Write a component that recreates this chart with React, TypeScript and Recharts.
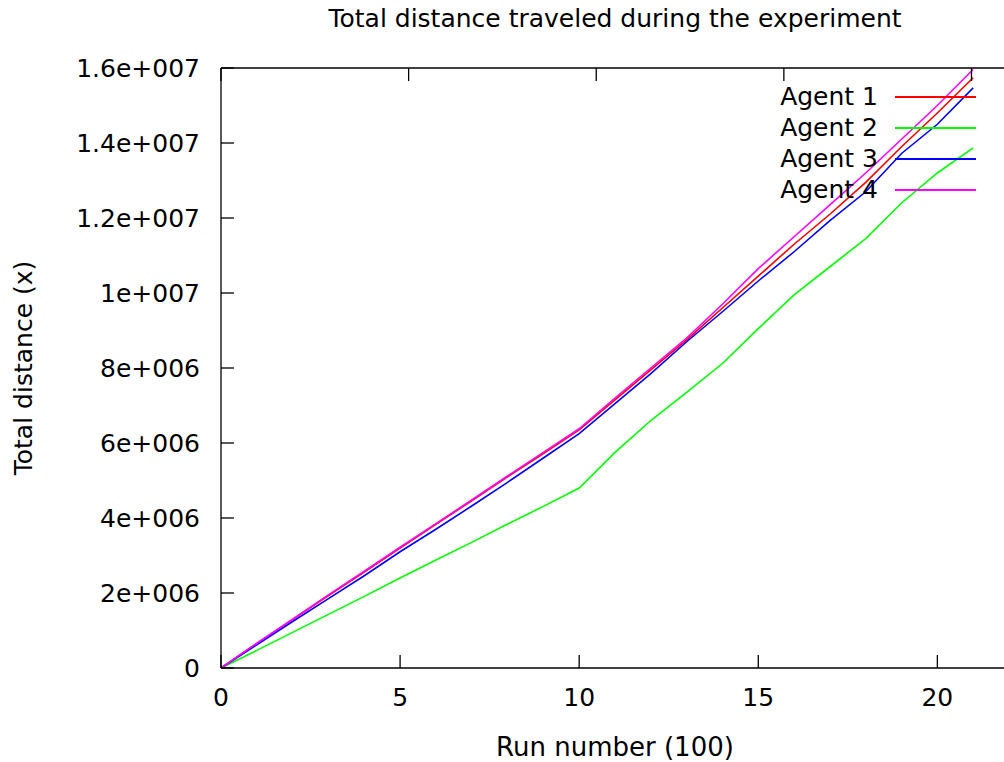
import { LineChart, Line, XAxis, YAxis, Legend, Label } from "recharts";

// run number (x100)
const runs = [0, 1, 2, 3, 4, 5, 6, 7, 8, 9, 10, 11, 12, 13, 14, 15, 16, 17, 18, 19, 20, 21];

// total distance per agent, in millions
const agent1 = [0, 0.65, 1.29, 1.93, 2.56, 3.2, 3.83, 4.46, 5.1, 5.72, 6.35, 7.15, 7.95, 8.75, 9.6, 10.45, 11.3, 12.1, 12.95, 13.9, 14.8, 15.74];
const agent2 = [0, 0.47, 0.95, 1.43, 1.91, 2.4, 2.88, 3.35, 3.84, 4.31, 4.8, 5.75, 6.6, 7.35, 8.12, 9.05, 9.95, 10.7, 11.45, 12.4, 13.2, 13.87];
const agent3 = [0, 0.62, 1.24, 1.85, 2.46, 3.1, 3.7, 4.32, 4.95, 5.6, 6.25, 7.05, 7.85, 8.7, 9.5, 10.32, 11.1, 11.93, 12.7, 13.72, 14.5, 15.47];
const agent4 = [0, 0.66, 1.3, 1.95, 2.58, 3.22, 3.85, 4.48, 5.12, 5.75, 6.38, 7.2, 8.0, 8.8, 9.7, 10.65, 11.5, 12.35, 13.2, 14.1, 15.0, 15.96];

const seriesNames = ["Agent 1", "Agent 2", "Agent 3", "Agent 4"];
const seriesColors = ["#ff0000", "#00ff00", "#0000ff", "#ff00ff"];

const xTicks = [0, 5, 10, 15, 20];
const yTicks = [0, 2e6, 4e6, 6e6, 8e6, 1e7, 1.2e7, 1.4e7, 1.6e7];
const yTickLabels = ["0", "2e+006", "4e+006", "6e+006", "8e+006", "1e+007", "1.2e+007", "1.4e+007", "1.6e+007"];

const data = runs.map((r, i) => ({
  run: r,
  a1: agent1[i] * 1e6,
  a2: agent2[i] * 1e6,
  a3: agent3[i] * 1e6,
  a4: agent4[i] * 1e6,
}));

const FONT = "'DejaVu Sans', sans-serif";
const FS = 25;
const TICK = 13;
// plot box edges
const LEFT = 221;
const RIGHT = 1009;
const TOP = 68;
const BOTTOM = 668;

const BottomTick = (props: any) => {
  const { x, payload } = props;
  return (
    <g>
      <line x1={x} y1={BOTTOM} x2={x} y2={BOTTOM - TICK} stroke="#000" strokeWidth={1.3} />
      <text x={x} y={BOTTOM + 38} textAnchor="middle" fontSize={FS} fontFamily={FONT} fill="#000">
        {payload.value}
      </text>
    </g>
  );
};

const TopTick = (props: any) => {
  const { x } = props;
  return <line x1={x} y1={TOP} x2={x} y2={TOP + TICK} stroke="#000" strokeWidth={1.3} />;
};

const LeftTick = (props: any) => {
  const { y, payload } = props;
  const idx = yTicks.indexOf(payload.value);
  return (
    <g>
      <line x1={LEFT} y1={y} x2={LEFT + TICK} y2={y} stroke="#000" strokeWidth={1.3} />
      <text x={LEFT - 21} y={y + 9} textAnchor="end" fontSize={FS} fontFamily={FONT} fill="#000">
        {yTickLabels[idx]}
      </text>
    </g>
  );
};

const RightTick = (props: any) => {
  const { y } = props;
  return <line x1={RIGHT} y1={y} x2={RIGHT - TICK} y2={y} stroke="#000" strokeWidth={1.3} />;
};

const LegendBox = (props: any) => {
  const items = props.payload || [];
  return (
    <div style={{ fontFamily: FONT, fontSize: FS, color: "#000" }}>
      {items.map((it: any) => (
        <div key={it.value} style={{ display: "flex", alignItems: "center", height: 31 }}>
          <span style={{ width: 178, textAlign: "right", whiteSpace: "nowrap" }}>{it.value}</span>
          <span style={{ width: 81, height: 2, marginLeft: 17, background: it.color }} />
        </div>
      ))}
    </div>
  );
};

export default function App() {
  return (
    <div style={{ position: "absolute", left: 0, top: 0, width: 1004, height: 762, overflow: "hidden", background: "#fff" }}>
      <div
        style={{
          position: "absolute",
          left: 215,
          top: 4,
          width: 800,
          textAlign: "center",
          fontFamily: FONT,
          fontSize: FS,
          color: "#000",
        }}
      >
        Total distance traveled during the experiment
      </div>
      <LineChart width={1020} height={762} data={data} margin={{ top: 67, right: 10, left: 0, bottom: 0 }}>
        <XAxis
          dataKey="run"
          type="number"
          domain={[0, 22]}
          ticks={xTicks}
          height={94}
          tickSize={0}
          tickMargin={0}
          tickLine={false}
          tick={<BottomTick />}
          axisLine={{ stroke: "#000", strokeWidth: 1.3 }}
          interval={0}
        >
          <Label
            value="Run number (100)"
            position="insideBottom"
            offset={6}
            style={{ fontFamily: FONT, fontSize: 26, fill: "#000" }}
          />
        </XAxis>
        <XAxis
          xAxisId="top"
          orientation="top"
          type="number"
          domain={[0, 22]}
          ticks={xTicks}
          height={1}
          tickSize={0}
          tickMargin={0}
          tickLine={false}
          tick={<TopTick />}
          axisLine={{ stroke: "#000", strokeWidth: 1.3 }}
          interval={0}
        />
        <YAxis
          type="number"
          domain={[0, 1.6e7]}
          ticks={yTicks}
          width={221}
          tickSize={0}
          tickMargin={0}
          tickLine={false}
          tick={<LeftTick />}
          axisLine={{ stroke: "#000", strokeWidth: 1.3 }}
          interval={0}
        >
          <Label
            value="Total distance (x)"
            angle={-90}
            position="insideLeft"
            offset={23}
            style={{ fontFamily: FONT, fontSize: FS, fill: "#000", textAnchor: "middle" }}
          />
        </YAxis>
        <YAxis
          yAxisId="right"
          orientation="right"
          type="number"
          domain={[0, 1.6e7]}
          ticks={yTicks}
          width={1}
          tickSize={0}
          tickMargin={0}
          tickLine={false}
          tick={<RightTick />}
          axisLine={{ stroke: "#000", strokeWidth: 1.3 }}
          interval={0}
        />
        <Legend
          layout="vertical"
          align="center"
          verticalAlign="middle"
          content={<LegendBox />}
          wrapperStyle={{ position: "absolute", left: 700, top: 81, width: 300 }}
        />
        <Line type="linear" dataKey="a1" name={seriesNames[0]} stroke={seriesColors[0]} strokeWidth={1.6} dot={false} isAnimationActive={false} />
        <Line type="linear" dataKey="a2" name={seriesNames[1]} stroke={seriesColors[1]} strokeWidth={1.6} dot={false} isAnimationActive={false} />
        <Line type="linear" dataKey="a3" name={seriesNames[2]} stroke={seriesColors[2]} strokeWidth={1.6} dot={false} isAnimationActive={false} />
        <Line type="linear" dataKey="a4" name={seriesNames[3]} stroke={seriesColors[3]} strokeWidth={1.6} dot={false} isAnimationActive={false} />
      </LineChart>
    </div>
  );
}
